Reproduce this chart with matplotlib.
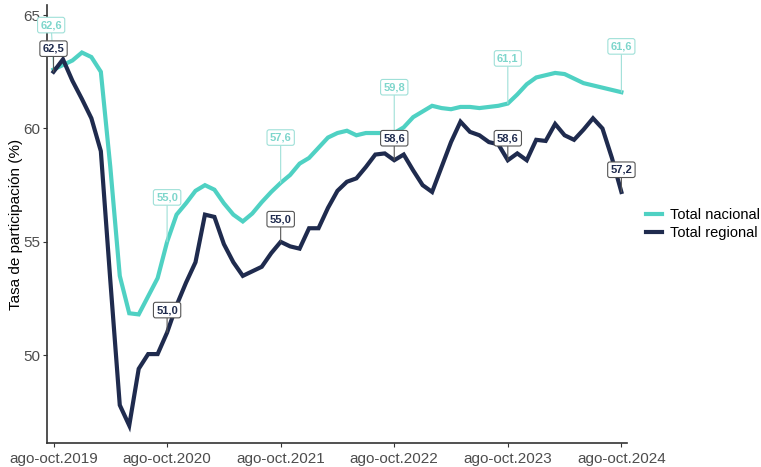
import matplotlib
matplotlib.use("Agg")
import matplotlib.pyplot as plt
import numpy as np

plt.rcParams['font.family'] = ['Liberation Sans', 'DejaVu Sans']

# trimestres moviles desde ago-oct 2019 hasta ago-oct 2024
tick_labels = ['ago-oct.2019', 'ago-oct.2020', 'ago-oct.2021',
               'ago-oct.2022', 'ago-oct.2023', 'ago-oct.2024']

nacional = [62.6, 62.8, 63.0, 63.35, 63.15, 62.5, 58.3, 53.5, 51.85, 51.8,
            52.6, 53.4, 55.0, 56.2, 56.7, 57.25, 57.5, 57.3, 56.7, 56.2,
            55.9, 56.25, 56.75, 57.2, 57.6, 57.95, 58.45, 58.7, 59.15, 59.6,
            59.8, 59.9, 59.7, 59.8, 59.8, 59.8, 59.8, 60.05, 60.5, 60.75,
            61.0, 60.9, 60.85, 60.95, 60.95, 60.9, 60.95, 61.0, 61.1, 61.5,
            61.95, 62.25, 62.35, 62.45, 62.4, 62.2, 62.0, 61.9, 61.8, 61.7,
            61.6]

regional = [62.5, 63.05, 62.1, 61.3, 60.45, 59.0, 53.3, 47.8, 46.9, 49.4,
            50.05, 50.05, 51.0, 52.2, 53.2, 54.1, 56.2, 56.1, 54.9, 54.1,
            53.5, 53.7, 53.9, 54.5, 55.0, 54.8, 54.7, 55.6, 55.6, 56.5,
            57.25, 57.65, 57.8, 58.3, 58.85, 58.9, 58.6, 58.85, 58.15, 57.5,
            57.2, 58.3, 59.4, 60.3, 59.85, 59.7, 59.4, 59.3, 58.6, 58.9,
            58.6, 59.5, 59.45, 60.2, 59.7, 59.5, 59.95, 60.45, 60.0, 58.7,
            57.2]

label_idx = [0, 12, 24, 36, 48, 60]

col_nac = '#4FD1C3'
col_reg = '#1F2B4E'

x = np.arange(len(nacional))

fig = plt.figure(figsize=(7.61, 4.67), dpi=100)
ax = fig.add_axes([0.062, 0.051, 0.762, 0.938])

ax.plot(x, nacional, color=col_nac, lw=3, label='Total nacional', solid_joinstyle='miter')
ax.plot(x, regional, color=col_reg, lw=3, label='Total regional', solid_joinstyle='miter')

# desplazamiento vertical de cada etiqueta (unidades del eje y)
off_nac = [1.96, 1.96, 2.0, 2.02, 1.99, 2.02]
off_reg = [1.02, 0.99, 1.0, 0.97, 0.97, 0.98]
dx_nac = [-0.25, 0, 0, 0, 0, 0]

def fmt(v):
    return ('%.1f' % v).replace('.', ',')

for k, i in enumerate(label_idx):
    ax.annotate(fmt(nacional[i]), xy=(i, nacional[i]),
                xytext=(i + dx_nac[k], nacional[i] + off_nac[k]),
                ha='center', va='center', fontsize=8, fontweight='bold',
                color='#7ED6CC', annotation_clip=False, zorder=5,
                bbox=dict(boxstyle='round,pad=0.25,rounding_size=0.2', fc='white',
                          ec='#9FE0D8', lw=0.8),
                arrowprops=dict(arrowstyle='-', color='#9FE0D8', lw=0.8,
                                shrinkA=0, shrinkB=0))
    ax.annotate(fmt(regional[i]), xy=(i, regional[i]),
                xytext=(i, regional[i] + off_reg[k]),
                ha='center', va='center', fontsize=8, fontweight='bold',
                color=col_reg, annotation_clip=False, zorder=6,
                bbox=dict(boxstyle='round,pad=0.25,rounding_size=0.2', fc='white',
                          ec='#555555', lw=0.8),
                arrowprops=dict(arrowstyle='-', color='#555555', lw=0.8,
                                shrinkA=0, shrinkB=0))

ax.set_xlim(-0.67, 60.6)
ax.set_ylim(46.12, 65.44)
ax.set_xticks(label_idx)
ax.set_xticklabels(tick_labels)
ax.set_yticks([50, 55, 60, 65])
ax.tick_params(axis='both', colors='#333333', labelcolor='#4D4D4D',
               labelsize=11, length=3, width=0.8)
ax.tick_params(axis='y', pad=2)
for s in ['top', 'right']:
    ax.spines[s].set_visible(False)
for s in ['left', 'bottom']:
    ax.spines[s].set_color('#333333')
    ax.spines[s].set_linewidth(1.2)
ax.set_ylabel('Tasa de participación (%)', fontsize=11, color='black', labelpad=0)

fig.legend(loc='center left', bbox_to_anchor=(0.849, 0.52), frameon=False,
           fontsize=10.5, handlelength=1.1, handletextpad=0.55, labelspacing=0.25,
           borderpad=0, borderaxespad=0)

fig.savefig('out.png', dpi=100)
